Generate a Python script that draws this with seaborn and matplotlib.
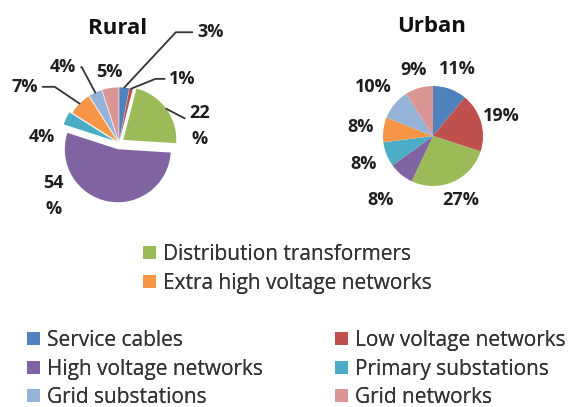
import numpy as np
import matplotlib
matplotlib.use("Agg")
import matplotlib.pyplot as plt
import seaborn as sns
from matplotlib.patches import Patch

sns.set_theme(style="white")
plt.rcParams['font.family'] = ['Open Sans', 'DejaVu Sans']

categories = ['Service cables', 'Low voltage networks', 'Distribution transformers',
              'High voltage networks', 'Primary substations', 'Extra high voltage networks',
              'Grid substations', 'Grid networks']
rural = [3, 1, 22, 54, 4, 7, 4, 5]
urban = [11, 19, 27, 8, 8, 8, 10, 9]
colors = ['#4F81BD', '#C0504D', '#9BBB59', '#8064A2', '#4BACC6', '#F79646', '#95B3D7', '#D99694']

W, H = 572, 407
fig = plt.figure(figsize=(W / 100, H / 100), dpi=100)


def pie_axes(cx, cy, r, lim):
    side = 2 * lim * r
    ax = fig.add_axes([(cx - side / 2) / W, (H - cy - side / 2) / H, side / W, side / H])
    ax.axis('off')
    return ax


def mid_point(w, dist):
    ang = np.deg2rad((w.theta1 + w.theta2) / 2)
    return w.center[0] + dist * np.cos(ang), w.center[1] + dist * np.sin(ang)


lab_kw = dict(ha='center', va='center', fontsize=13, fontweight='bold', color='#1e1e1e')

# ---- Rural pie ----
ax1 = pie_axes(119, 143, 53, 1.8)
wedges, _ = ax1.pie(rural, colors=colors, startangle=90, counterclock=False,
                    explode=[0.05, 0.05, 0.1, 0.12, 0.1, 0.05, 0.05, 0.05],
                    wedgeprops=dict(linewidth=0))
ax1.set_xlim(-1.8, 1.8)
ax1.set_ylim(-1.8, 1.8)

rural_txt = [f"{v}%" for v in rural]
rural_txt[2] = rural_txt[2].replace('%', '\n%')
rural_txt[3] = rural_txt[3].replace('%', '\n%')
# label position, connection style (None = no leader line)
rural_pos = [((1.72, 2.09), "angle,angleA=0,angleB=47"),
             ((1.2, 1.21), "angle,angleA=0,angleB=22"),
             ((1.52, 0.32), "arc3"),
             ((-1.23, -1.0), None),
             ((-1.45, 0.12), None),
             ((-1.78, 1.06), "angle,angleA=0,angleB=-34"),
             ((-1.05, 1.43), "angle,angleA=0,angleB=-62"),
             ((-0.19, 1.34), None)]
for w, t, (pos, cs) in zip(wedges, rural_txt, rural_pos):
    kw = dict(lab_kw, annotation_clip=False, linespacing=1.6)
    if cs is not None:
        kw['arrowprops'] = dict(arrowstyle='-', color='#333333', lw=1.3,
                                connectionstyle=cs, shrinkA=1, shrinkB=0)
    ax1.annotate(t, xy=mid_point(w, 1.0), xytext=pos, textcoords='data', **kw)

# ---- Urban pie ----
ax2 = pie_axes(433, 136, 50, 1.8)
wedges2, _ = ax2.pie(urban, colors=colors, startangle=90, counterclock=False,
                     wedgeprops=dict(linewidth=0))
ax2.set_xlim(-1.8, 1.8)
ax2.set_ylim(-1.8, 1.8)
urban_dist = [1.42, 1.42, 1.4, 1.65, 1.5, 1.47, 1.55, 1.38]
for w, v, d in zip(wedges2, urban, urban_dist):
    x, y = mid_point(w, d)
    ax2.text(x, y, f"{v}%", clip_on=False, **lab_kw)

fig.text(118 / W, 1 - 29 / H, 'Rural', ha='center', va='center', fontsize=16,
         fontweight='bold', color='#111111')
fig.text(432 / W, 1 - 27 / H, 'Urban', ha='center', va='center', fontsize=16,
         fontweight='bold', color='#111111')

# ---- Legends ----
handles = [Patch(facecolor=c, edgecolor='none') for c in colors]
leg_kw = dict(frameon=False, fontsize=15, handlelength=0.6, handleheight=0.6,
              handletextpad=0.35, borderpad=0, borderaxespad=0, labelspacing=0.36,
              labelcolor='#333333')


def add_legend(idx, x, y):
    leg = fig.legend([handles[i] for i in idx], [categories[i] for i in idx],
                     loc='upper left', bbox_to_anchor=(x / W, 1 - y / H), **leg_kw)
    fig.add_artist(leg)


add_legend([2, 5], 143, 244)
add_legend([0, 3, 6], 27, 330)
add_legend([1, 4, 7], 335, 330)

fig.savefig('out.png', dpi=100, facecolor='white')
